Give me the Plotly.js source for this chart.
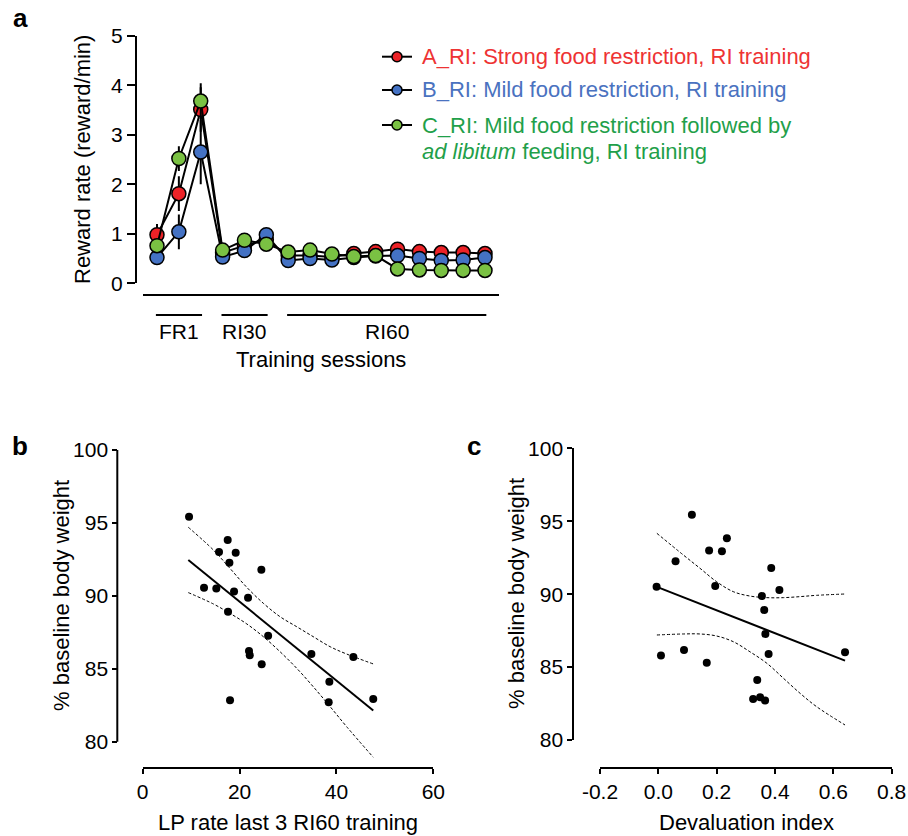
<!DOCTYPE html>
<html><head><meta charset="utf-8">
<script src="https://cdn.plot.ly/plotly-3.0.1.min.js"></script>
<style>body{margin:0;background:#fff;} #chart{width:908px;height:836px;}</style>
</head><body><div id="chart"></div>
<script>
// ---------- Panel a data ----------
const sessions = [1,2,3,4,5,6,7,8,9,10,11,12,13,14,15,16];
const rateA = [0.98,1.81,3.51,0.62,0.76,0.88,0.56,0.56,0.53,0.60,0.64,0.69,0.64,0.62,0.62,0.60];
const errA  = [0.22,0.35,0.45,0.05,0.05,0.05,0.05,0.05,0.05,0.05,0.05,0.05,0.05,0.05,0.05,0.05];
const rateB = [0.52,1.04,2.65,0.53,0.66,0.98,0.46,0.50,0.47,0.52,0.55,0.56,0.50,0.46,0.47,0.52];
const errB  = [0.08,0.35,0.65,0.05,0.05,0.05,0.05,0.05,0.05,0.05,0.05,0.05,0.05,0.05,0.05,0.05];
const rateC = [0.76,2.52,3.68,0.67,0.87,0.79,0.63,0.67,0.59,0.54,0.56,0.29,0.27,0.26,0.26,0.26];
const errC  = [0.08,0.25,0.36,0.05,0.05,0.05,0.05,0.05,0.05,0.05,0.05,0.05,0.05,0.05,0.05,0.05];
const seriesNames = ['A_RI: Strong food restriction, RI training',
                     'B_RI: Mild food restriction, RI training',
                     'C_RI: Mild food restriction followed by'];
const seriesNameLine2 = '<i>ad libitum</i> feeding, RI training';
const groupNames = ['FR1','RI30','RI60'];
const groupStart = [1,4,7];
const groupEnd = [3,6,16];

// ---------- Panel b data ----------
const lpRate = [9.57,17.55,15.76,19.2,17.9,24.5,12.66,15.2,18.86,21.75,17.62,25.9,21.95,22.1,24.57,34.83,43.5,38.54,18.03,38.4,47.6];
const bodyWeightB = [95.43,93.83,93.0,92.96,92.27,91.79,90.56,90.51,90.29,89.87,88.91,87.27,86.22,85.92,85.3,86.01,85.81,84.11,82.83,82.7,82.93];
const fitBx = [9.42,47.6];
const fitBy = [92.46,82.13];
const bandBx = [9.42,14.6,18.0,21.5,24.9,28.35,31.8,35.2,38.7,42.1,47.6];
const bandBupper = [94.7,93.14,91.89,90.58,89.49,88.57,87.88,87.2,86.51,86.01,85.33];
const bandBlower = [90.22,89.44,88.8,88.07,87.2,86.17,85.03,83.77,82.4,81.03,78.93];
const xTicksB = [0,20,40,60];
const yTicks = [80,85,90,95,100];

// ---------- Panel c data ----------
const devalIndex = [-0.006,0.009,0.059,0.088,0.115,0.166,0.174,0.195,0.218,0.235,0.325,0.339,0.349,0.355,0.363,0.366,0.367,0.378,0.387,0.415,0.64];
const bodyWeightC = [90.51,85.8,92.25,86.17,95.45,85.3,93.0,90.56,92.94,93.83,82.81,84.11,82.93,89.87,88.91,82.7,87.27,85.9,91.79,90.29,86.01];
const fitCx = [-0.005,0.64];
const fitCy = [90.5,85.44];
const bandCx = [-0.005,0.086,0.143,0.2,0.257,0.314,0.372,0.429,0.486,0.543,0.64];
const bandCupper = [94.17,92.68,91.77,90.85,90.17,89.87,89.76,89.76,89.83,89.92,90.01];
const bandClower = [87.2,87.27,87.27,87.13,86.74,86.05,85.26,84.23,83.2,82.28,81.03];
const xTicksC = [-0.2,0.0,0.2,0.4,0.6,0.8];
const xTickTextC = ['-0.2','0.0','0.2','0.4','0.6','0.8'];

// ---------- styling ----------
const W = 908, H = 836;
const X = px => px / W;
const Y = py => 1 - py / H;
const FONT = 'Arial, "Liberation Sans", Helvetica, sans-serif';
const markerFill = ['#ec2227', '#4472c4', '#7ac143'];
const textCol = ['#ee3333', '#4a72c0', '#1fa04a'];

const rates = [rateA, rateB, rateC];
const errs = [errA, errB, errC];
const traces = [];
rates.forEach((r, i) => {
  traces.push({
    type: 'scatter', mode: 'lines+markers', x: sessions, y: r,
    xaxis: 'x', yaxis: 'y', cliponaxis: false, showlegend: false,
    line: {color: 'black', width: 2},
    marker: {size: 14, color: markerFill[i], line: {color: 'black', width: 1.5}},
    error_y: {type: 'data', array: errs[i], visible: true, color: 'black', thickness: 2, width: 0}
  });
});

// panel b
traces.push({type:'scatter', mode:'lines', x: bandBx, y: bandBupper, xaxis:'x2', yaxis:'y2', showlegend:false,
  line:{color:'black', width:1, dash:'3px,2px', shape:'spline'}});
traces.push({type:'scatter', mode:'lines', x: bandBx, y: bandBlower, xaxis:'x2', yaxis:'y2', showlegend:false,
  line:{color:'black', width:1, dash:'3px,2px', shape:'spline'}});
traces.push({type:'scatter', mode:'lines', x: fitBx, y: fitBy, xaxis:'x2', yaxis:'y2', showlegend:false,
  line:{color:'black', width:2}});
traces.push({type:'scatter', mode:'markers', x: lpRate, y: bodyWeightB, xaxis:'x2', yaxis:'y2', showlegend:false,
  cliponaxis:false, marker:{size:8, color:'black'}});

// panel c
traces.push({type:'scatter', mode:'lines', x: bandCx, y: bandCupper, xaxis:'x3', yaxis:'y3', showlegend:false,
  line:{color:'black', width:1, dash:'3px,2px', shape:'spline'}});
traces.push({type:'scatter', mode:'lines', x: bandCx, y: bandClower, xaxis:'x3', yaxis:'y3', showlegend:false,
  line:{color:'black', width:1, dash:'3px,2px', shape:'spline'}});
traces.push({type:'scatter', mode:'lines', x: fitCx, y: fitCy, xaxis:'x3', yaxis:'y3', showlegend:false,
  line:{color:'black', width:2}});
traces.push({type:'scatter', mode:'markers', x: devalIndex, y: bodyWeightC, xaxis:'x3', yaxis:'y3', showlegend:false,
  cliponaxis:false, marker:{size:8, color:'black'}});

const axBase = {showgrid:false, zeroline:false, linecolor:'black', linewidth:2, tickcolor:'black',
  tickwidth:2, ticklen:5, ticks:'outside', tickfont:{family:FONT, size:21, color:'black'}, fixedrange:true};

const shapes = [];
const annotations = [];

// panel a group bars & labels
groupNames.forEach((g, i) => {
  shapes.push({type:'line', xref:'x', yref:'paper', x0: groupStart[i]-0.05, x1: groupEnd[i]+0.06,
    y0: Y(315), y1: Y(315), line:{color:'black', width:2}});
  annotations.push({xref:'x', yref:'paper', x:(groupStart[i]+groupEnd[i])/2, y:Y(332), text:g,
    showarrow:false, xanchor:'center', yanchor:'middle', font:{family:FONT, size:21, color:'black'}});
});
// panel b y axis line (80-100 only)
shapes.push({type:'line', xref:'paper', yref:'y2', x0:X(117.3), x1:X(117.3), y0:80, y1:100, line:{color:'black', width:2}});

// legend (manual)
const legendRowY = [56.7, 90, 125];
legendRowY.forEach((ry, i) => {
  shapes.push({type:'line', xref:'paper', yref:'paper', x0:X(382), x1:X(412), y0:Y(ry), y1:Y(ry), line:{color:'black', width:2}});
  shapes.push({type:'circle', xref:'paper', yref:'paper', x0:X(392), x1:X(402), y0:Y(ry+5), y1:Y(ry-5),
    fillcolor:markerFill[i], line:{color:'black', width:1.5}});
  annotations.push({xref:'paper', yref:'paper', x:X(420), y:Y(ry), text:seriesNames[i], showarrow:false,
    xanchor:'left', yanchor:'middle', font:{family:FONT, size:22, color:textCol[i]}});
});
annotations.push({xref:'paper', yref:'paper', x:X(420), y:Y(151), text:seriesNameLine2, showarrow:false,
  xanchor:'left', yanchor:'middle', font:{family:FONT, size:22, color:textCol[2]}});

// axis titles
const titleFont = {family:FONT, size:22, color:'black'};
annotations.push({xref:'paper', yref:'paper', x:X(82), y:Y(160), text:'Reward rate (reward/min)', textangle:-90,
  showarrow:false, xanchor:'center', yanchor:'middle', font:titleFont});
annotations.push({xref:'paper', yref:'paper', x:X(321), y:Y(359), text:'Training sessions',
  showarrow:false, xanchor:'center', yanchor:'middle', font:titleFont});
annotations.push({xref:'paper', yref:'paper', x:X(61), y:Y(595), text:'% baseline body weight', textangle:-90,
  showarrow:false, xanchor:'center', yanchor:'middle', font:titleFont});
annotations.push({xref:'paper', yref:'paper', x:X(288), y:Y(822), text:'LP rate last 3 RI60 training',
  showarrow:false, xanchor:'center', yanchor:'middle', font:titleFont});
annotations.push({xref:'paper', yref:'paper', x:X(516), y:Y(594), text:'% baseline body weight', textangle:-90,
  showarrow:false, xanchor:'center', yanchor:'middle', font:titleFont});
annotations.push({xref:'paper', yref:'paper', x:X(746), y:Y(822), text:'Devaluation index',
  showarrow:false, xanchor:'center', yanchor:'middle', font:titleFont});

// panel letters
const letterFont = {family:FONT, size:26, color:'black', weight:'bold'};
annotations.push({xref:'paper', yref:'paper', x:X(20), y:Y(18), text:'<b>a</b>', showarrow:false, xanchor:'center', yanchor:'middle', font:letterFont});
annotations.push({xref:'paper', yref:'paper', x:X(20), y:Y(446), text:'<b>b</b>', showarrow:false, xanchor:'center', yanchor:'middle', font:letterFont});
annotations.push({xref:'paper', yref:'paper', x:X(474), y:Y(446), text:'<b>c</b>', showarrow:false, xanchor:'center', yanchor:'middle', font:letterFont});

const layout = {
  width: W, height: H, margin:{l:0, r:0, t:0, b:0},
  paper_bgcolor:'white', plot_bgcolor:'rgba(0,0,0,0)',
  font:{family:FONT, color:'black'},
  showlegend:false, hovermode:false,
  xaxis: Object.assign({}, axBase, {domain:[X(143), X(499)], range:[0.36, 16.64], anchor:'free', position:Y(295),
    showline:true, ticks:'', showticklabels:false}),
  yaxis: Object.assign({}, axBase, {domain:[Y(283.3), Y(35.7)], range:[0, 5], anchor:'free', position:X(136),
    showline:true, tick0:0, dtick:1, ticklen:8}),
  xaxis2: Object.assign({}, axBase, {domain:[X(142.7), X(433.3)], range:[0, 60], anchor:'free', position:Y(767.7),
    showline:true, tickvals:xTicksB}),
  yaxis2: Object.assign({}, axBase, {domain:[Y(770.8), Y(450)], range:[78, 100], anchor:'free', position:X(117.3),
    showline:false, tickvals:yTicks}),
  xaxis3: Object.assign({}, axBase, {domain:[X(600), X(891.7)], range:[-0.2, 0.8], anchor:'free', position:Y(767.7),
    showline:true, tickvals:xTicksC, ticktext:xTickTextC}),
  yaxis3: Object.assign({}, axBase, {domain:[Y(740), Y(448.3)], range:[80, 100], anchor:'free', position:X(573.3),
    showline:true, tickvals:yTicks}),
  shapes: shapes,
  annotations: annotations
};

Plotly.newPlot('chart', traces, layout, {displayModeBar:false, staticPlot:true});
</script>
</body></html>
